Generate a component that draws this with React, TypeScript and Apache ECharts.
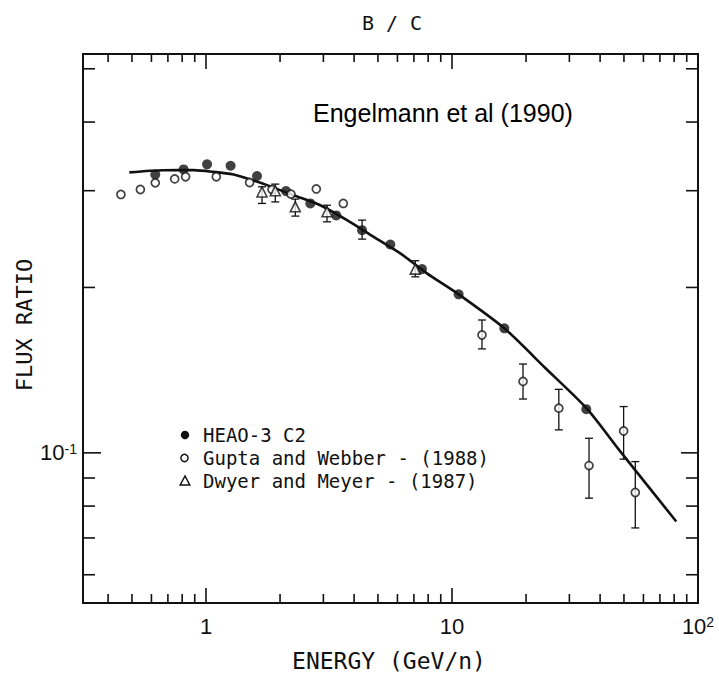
import React, { useEffect, useRef } from 'react';
import * as echarts from 'echarts';

// Axis ranges (log-log)
const X_MIN = Math.pow(10, -0.5);
const X_MAX = 100;
const Y_MIN = 0.0533;
const Y_MAX = 0.532;

// Tick positions
const xTickVals = [0.4, 0.5, 0.6, 0.7, 0.8, 0.9, 1, 2, 3, 4, 5, 6, 7, 8, 9, 10, 20, 30, 40, 50, 60, 70, 80, 90, 100];
const yTickVals = [0.06, 0.07, 0.08, 0.09, 0.1, 0.2, 0.3, 0.4, 0.5];

// Fitted curve
const curveE = [0.488, 0.672, 0.89, 1.074, 1.295, 1.468, 1.77, 2.27, 2.915, 3.743, 4.8, 6.165, 7.91, 10.64, 16.32, 23.95, 35.2, 48.3, 81.6];
const curveR = [0.324, 0.3269, 0.327, 0.3246, 0.321, 0.3158, 0.3071, 0.2944, 0.2823, 0.2652, 0.2473, 0.2307, 0.2122, 0.1943, 0.1685, 0.1427, 0.1206, 0.1006, 0.075];

// HEAO-3 C2 (filled circles)
const heaoE = [0.622, 0.811, 1.01, 1.259, 1.612, 2.115, 2.655, 3.386, 4.31, 5.614, 7.55, 10.64, 16.32, 35.15];
const heaoR = [0.321, 0.328, 0.335, 0.333, 0.319, 0.2995, 0.2844, 0.2705, 0.2543, 0.2394, 0.216, 0.1943, 0.1685, 0.1201];
const heaoErrE = [4.31];
const heaoErrLo = [0.2449];
const heaoErrHi = [0.2652];

// Gupta and Webber (open circles)
const guptaE = [0.451, 0.541, 0.622, 0.746, 0.826, 1.101, 1.504, 1.855, 2.216, 2.808, 3.615, 13.24, 19.44, 27.18, 36.06, 49.85, 55.6];
const guptaR = [0.2953, 0.3015, 0.31, 0.3152, 0.318, 0.318, 0.3105, 0.3015, 0.2957, 0.3022, 0.2844, 0.1639, 0.1349, 0.1206, 0.0948, 0.1096, 0.0847];
const guptaErrE = [13.24, 19.44, 27.18, 36.06, 49.85, 55.6];
const guptaErrLo = [0.1546, 0.1253, 0.1101, 0.0827, 0.0974, 0.073];
const guptaErrHi = [0.1745, 0.1451, 0.1305, 0.1063, 0.1214, 0.0964];

// Dwyer and Meyer (open triangles)
const dwyerE = [1.689, 1.913, 2.307, 3.104, 7.093];
const dwyerR = [0.2984, 0.2999, 0.2804, 0.2747, 0.216];
const dwyerLo = [0.2844, 0.2862, 0.2697, 0.2633, 0.2091];
const dwyerHi = [0.3049, 0.3084, 0.2896, 0.2823, 0.2237];

const legendNames = ['HEAO-3 C2', 'Gupta and Webber - (1988)', 'Dwyer and Meyer - (1987)'];

const INK = '#111';
const MONO = "'DejaVu Sans Mono', monospace";
const NUM = "'Liberation Sans', Arial, sans-serif";

const isMajor = (v: number) => Math.abs(Math.log10(v) - Math.round(Math.log10(v))) < 1e-9;

function errorBarSeries(E: number[], lo: number[], hi: number[]) {
  return {
    type: 'custom',
    z: 2,
    silent: true,
    data: E.map((e, i) => [e, lo[i], hi[i]]),
    renderItem: (params: any, api: any) => {
      const e = api.value(0);
      const a = api.coord([e, api.value(1)]);
      const b = api.coord([e, api.value(2)]);
      const cw = 4;
      const style = { stroke: INK, lineWidth: 1.3 };
      return {
        type: 'group',
        children: [
          { type: 'line', shape: { x1: a[0], y1: a[1], x2: b[0], y2: b[1] }, style },
          { type: 'line', shape: { x1: a[0] - cw, y1: a[1], x2: a[0] + cw, y2: a[1] }, style },
          { type: 'line', shape: { x1: b[0] - cw, y1: b[1], x2: b[0] + cw, y2: b[1] }, style },
        ],
      };
    },
  };
}

function buildOption() {
  const tickStyle = { stroke: INK, lineWidth: 1.6 };
  return {
    animation: false,
    backgroundColor: '#fff',
    grid: {
      left: 83,
      right: 21,
      top: 54,
      bottom: 73,
      show: true,
      borderColor: INK,
      borderWidth: 2,
      backgroundColor: 'transparent',
    },
    xAxis: {
      type: 'log',
      logBase: 10,
      min: X_MIN,
      max: X_MAX,
      axisLine: { show: false },
      axisTick: { show: false },
      splitLine: { show: false },
      minorTick: { show: false },
      axisLabel: {
        show: true,
        margin: 12,
        showMinLabel: false,
        showMaxLabel: true,
        formatter: (v: number) => {
          if (Math.abs(v - 1) < 1e-6) return '{b|1}';
          if (Math.abs(v - 10) < 1e-6) return '{b|10}';
          if (Math.abs(v - 100) < 1e-4) return '{b|10}{s|2}';
          return '';
        },
        rich: {
          b: { fontSize: 22, fontFamily: NUM, color: INK, lineHeight: 22 },
          s: { fontSize: 14, fontFamily: NUM, color: INK, lineHeight: 8, verticalAlign: 'top' },
        },
      },
    },
    yAxis: {
      type: 'log',
      logBase: 10,
      min: Y_MIN,
      max: Y_MAX,
      axisLine: { show: false },
      axisTick: { show: false },
      splitLine: { show: false },
      minorTick: { show: false },
      axisLabel: {
        show: true,
        margin: 6,
        showMinLabel: false,
        showMaxLabel: false,
        formatter: (v: number) => (Math.abs(v - 0.1) < 1e-6 ? '{b|10}{s|-1}' : ''),
        rich: {
          b: { fontSize: 22, fontFamily: NUM, color: INK, lineHeight: 22 },
          s: { fontSize: 14, fontFamily: NUM, color: INK, lineHeight: 8, verticalAlign: 'top' },
        },
      },
    },
    graphic: [
      {
        type: 'text',
        x: 392,
        y: 23,
        style: { text: 'B / C', font: `20px ${MONO}`, fill: INK, align: 'center', verticalAlign: 'middle' },
      },
      {
        type: 'text',
        x: 313,
        y: 113,
        style: { text: 'Engelmann et al (1990)', font: `25px ${NUM}`, fill: '#000', align: 'left', verticalAlign: 'middle' },
      },
      {
        type: 'text',
        x: 389,
        y: 661,
        style: { text: 'ENERGY (GeV/n)', font: `23px ${MONO}`, fill: INK, align: 'center', verticalAlign: 'middle' },
      },
      {
        type: 'text',
        x: 24,
        y: 325,
        rotation: Math.PI / 2,
        style: { text: 'FLUX RATIO', font: `22px ${MONO}`, fill: INK, align: 'center', verticalAlign: 'middle' },
      },
      // legend
      { type: 'circle', shape: { cx: 185, cy: 435, r: 4.2 }, style: { fill: INK } },
      { type: 'circle', shape: { cx: 184.5, cy: 458, r: 3.6 }, style: { fill: '#fff', stroke: INK, lineWidth: 1.5 } },
      {
        type: 'polygon',
        shape: { points: [[185, 476], [180.2, 485], [189.8, 485]] },
        style: { fill: '#fff', stroke: INK, lineWidth: 1.5 },
      },
      {
        type: 'text',
        x: 203,
        y: 435,
        style: { text: legendNames[0], font: `19px ${MONO}`, fill: INK, verticalAlign: 'middle' },
      },
      {
        type: 'text',
        x: 203,
        y: 458,
        style: { text: legendNames[1], font: `19px ${MONO}`, fill: INK, verticalAlign: 'middle' },
      },
      {
        type: 'text',
        x: 203,
        y: 481,
        style: { text: legendNames[2], font: `19px ${MONO}`, fill: INK, verticalAlign: 'middle' },
      },
    ],
    series: [
      // x ticks (bottom & top)
      {
        type: 'custom',
        silent: true,
        z: 1,
        data: xTickVals.map((v) => [v, Y_MIN]),
        renderItem: (params: any, api: any) => {
          const v = api.value(0);
          const b = api.coord([v, Y_MIN]);
          const t = api.coord([v, Y_MAX]);
          const maj = isMajor(v);
          const lb = maj ? 15 : 9;
          const lt = maj ? 15 : 8;
          return {
            type: 'group',
            children: [
              { type: 'line', shape: { x1: b[0], y1: b[1], x2: b[0], y2: b[1] - lb }, style: tickStyle },
              { type: 'line', shape: { x1: t[0], y1: t[1], x2: t[0], y2: t[1] + lt }, style: tickStyle },
            ],
          };
        },
      },
      // y ticks (left & right)
      {
        type: 'custom',
        silent: true,
        z: 1,
        data: yTickVals.map((v) => [X_MIN, v]),
        renderItem: (params: any, api: any) => {
          const v = api.value(1);
          const l = api.coord([X_MIN, v]);
          const r = api.coord([X_MAX, v]);
          const maj = isMajor(v);
          const ll = maj ? 18 : 12;
          const lr = maj ? 17 : 12;
          return {
            type: 'group',
            children: [
              { type: 'line', shape: { x1: l[0], y1: l[1], x2: l[0] + ll, y2: l[1] }, style: tickStyle },
              { type: 'line', shape: { x1: r[0], y1: r[1], x2: r[0] - lr, y2: r[1] }, style: tickStyle },
            ],
          };
        },
      },
      {
        type: 'line',
        name: 'curve',
        z: 2,
        data: curveE.map((e, i) => [e, curveR[i]]),
        smooth: 0.25,
        symbol: 'none',
        lineStyle: { color: INK, width: 2.6 },
        silent: true,
      },
      errorBarSeries(heaoErrE, heaoErrLo, heaoErrHi),
      errorBarSeries(guptaErrE, guptaErrLo, guptaErrHi),
      errorBarSeries(dwyerE, dwyerLo, dwyerHi),
      {
        type: 'scatter',
        name: legendNames[0],
        z: 4,
        data: heaoE.map((e, i) => [e, heaoR[i]]),
        symbol: 'circle',
        symbolSize: 10,
        itemStyle: { color: INK },
      },
      {
        type: 'scatter',
        name: legendNames[1],
        z: 4,
        data: guptaE.map((e, i) => [e, guptaR[i]]),
        symbol: 'circle',
        symbolSize: 8,
        itemStyle: { color: '#fff', borderColor: INK, borderWidth: 1.7 },
      },
      {
        type: 'scatter',
        name: legendNames[2],
        z: 4,
        data: dwyerE.map((e, i) => [e, dwyerR[i]]),
        symbol: 'triangle',
        symbolSize: 10,
        itemStyle: { color: '#fff', borderColor: INK, borderWidth: 1.6 },
      },
    ],
  };
}

export default function App() {
  const ref = useRef<HTMLDivElement>(null);
  useEffect(() => {
    if (!ref.current) return;
    const chart = echarts.init(ref.current, null, { renderer: 'svg' });
    chart.setOption(buildOption() as any);
    return () => chart.dispose();
  }, []);
  return (
    <div
      ref={ref}
      style={{ position: 'fixed', left: 0, top: 0, width: 719, height: 676, background: '#fff' }}
    />
  );
}
